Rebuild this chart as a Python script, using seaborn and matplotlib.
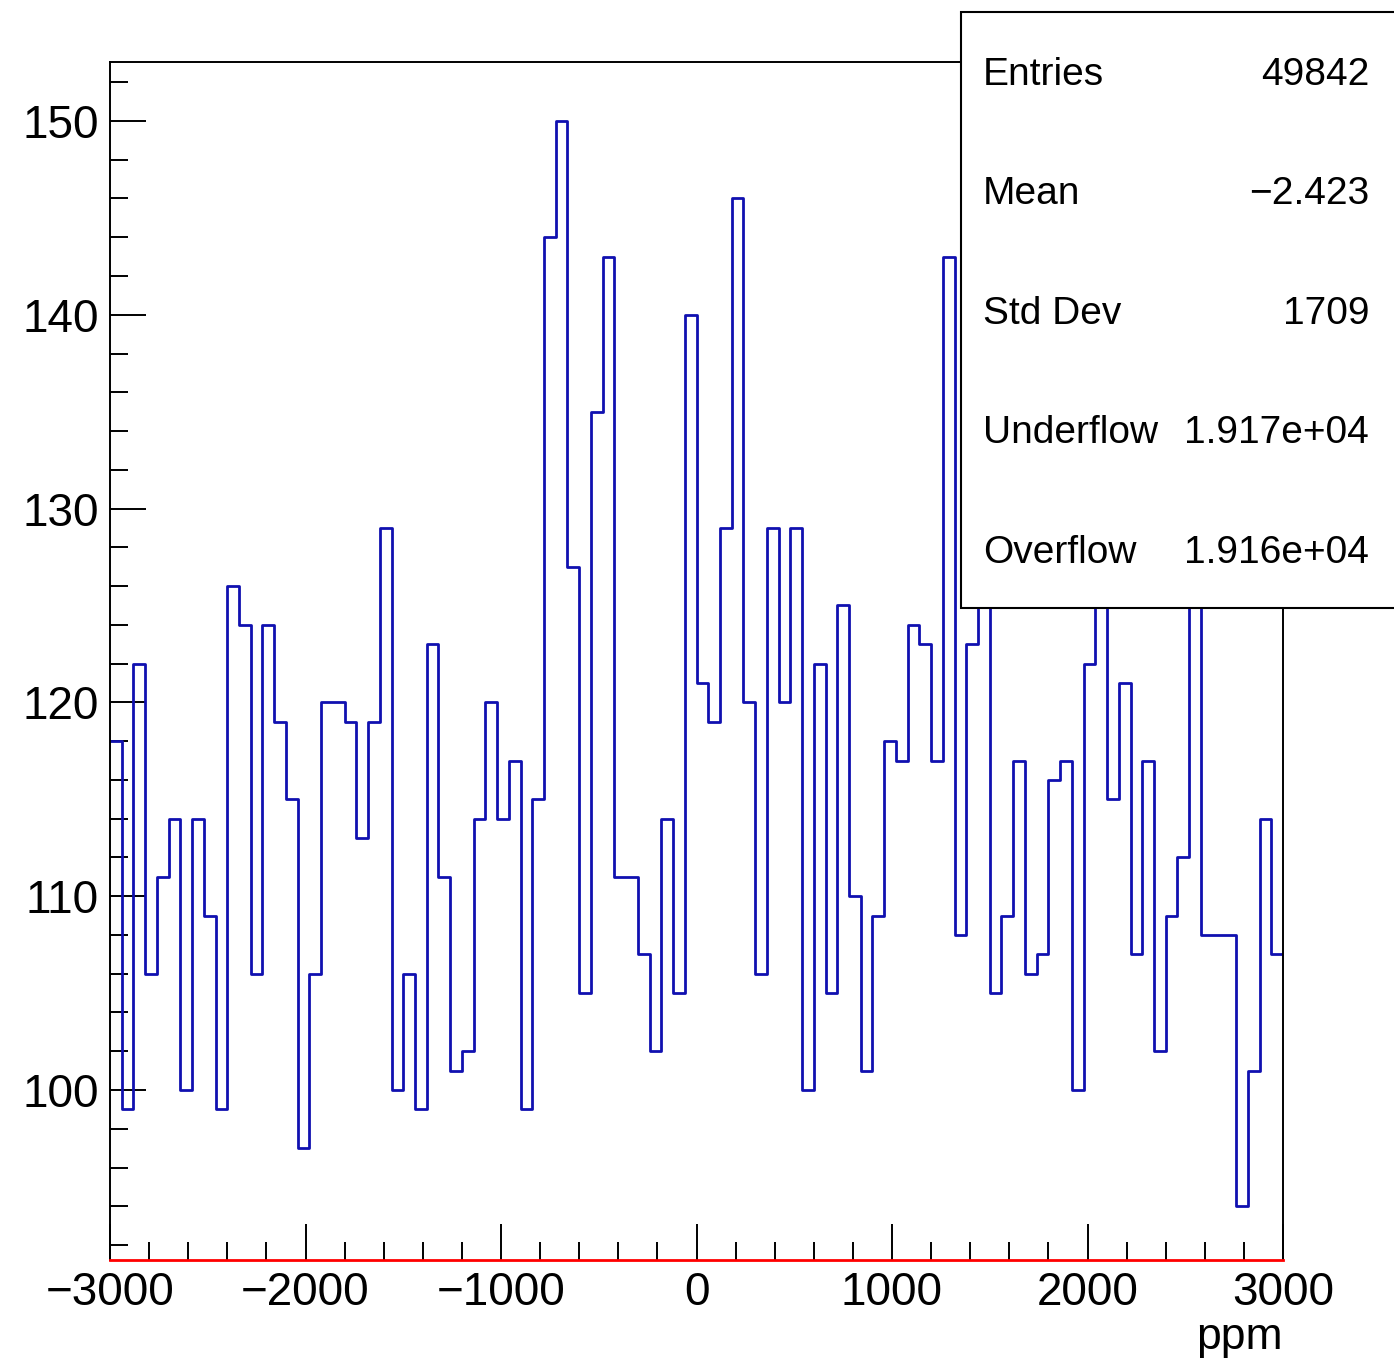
import numpy as np
import pandas as pd
import seaborn as sns
import matplotlib.pyplot as plt
from matplotlib.ticker import MultipleLocator
from matplotlib.patches import Rectangle

# ************************************************************************
# Data: 100 bins from -3000 to 3000 ppm
# ************************************************************************

x_low = -3000
x_high = 3000
n_bins = 100

counts = [118, 99, 122, 106, 111, 114, 100, 114, 109, 99,
          126, 124, 106, 124, 119, 115, 97, 106, 120, 120,
          119, 113, 119, 129, 100, 106, 99, 123, 111, 101,
          102, 114, 120, 114, 117, 99, 115, 144, 150, 127,
          105, 135, 143, 111, 111, 107, 102, 114, 105, 140,
          121, 119, 129, 146, 120, 106, 129, 120, 129, 100,
          122, 105, 125, 110, 101, 109, 118, 117, 124, 123,
          117, 143, 108, 123, 127, 105, 109, 117, 106, 107,
          116, 117, 100, 122, 128, 115, 121, 107, 117, 102,
          109, 112, 127, 108, 108, 108, 94, 101, 114, 107]

stat_names = ['Entries', 'Mean', 'Std Dev', 'Underflow', 'Overflow']
stat_values = ['49842', '\u22122.423', '1709', '1.917e+04', '1.916e+04']

edges = np.linspace(x_low, x_high, n_bins + 1)
centers = (edges[:-1] + edges[1:]) / 2
df = pd.DataFrame({'ppm': centers, 'count': counts})

# ************************************************************************
# Plot
# ************************************************************************

sns.set_theme(style='white')
plt.rcParams['font.family'] = ['Liberation Sans', 'DejaVu Sans']
for key in ['text.color', 'axes.labelcolor', 'xtick.color', 'ytick.color']:
    plt.rcParams[key] = 'black'

W, H = 1394, 1369
fig = plt.figure(figsize=(W / 100, H / 100), dpi=100)
ax = fig.add_axes([110 / W, 1 - 1260 / H, (1283 - 110) / W, (1260 - 62) / H])

sns.histplot(data=df, x='ppm', weights='count', bins=list(edges), element='step',
             fill=False, color='#1010b0', linewidth=2.0, ax=ax)

ax.set_xlim(x_low, x_high)
ax.set_ylim(91.23, 153.04)
ax.set_ylabel('')
ax.set_xlabel('ppm', loc='right', fontsize=32, labelpad=1)

ax.xaxis.set_major_locator(MultipleLocator(1000))
ax.xaxis.set_minor_locator(MultipleLocator(200))
ax.yaxis.set_major_locator(MultipleLocator(10))
ax.yaxis.set_minor_locator(MultipleLocator(2))
ax.tick_params(which='both', direction='in', bottom=True, left=True,
               top=False, right=False, width=1.4, color='black',
               labelcolor='black')
ax.tick_params(which='major', length=26, labelsize=33, pad=8)
ax.tick_params(which='minor', length=13)

for side in ['left', 'right', 'top', 'bottom']:
    ax.spines[side].set_visible(True)
    ax.spines[side].set_color('black')
    ax.spines[side].set_linewidth(1.4)
ax.spines['bottom'].set_color('red')
ax.spines['bottom'].set_linewidth(2.0)

# stats box
box = Rectangle((961 / W, 1 - 608 / H), 0.5, (608 - 12) / H,
                transform=fig.transFigure, facecolor='white',
                edgecolor='black', linewidth=1.5, zorder=5)
fig.add_artist(box)
for i, (name, val) in enumerate(zip(stat_names, stat_values)):
    yb = 1 - (85 + 119.5 * i) / H
    fig.text(983 / W, yb, name, ha='left', va='baseline', fontsize=28,
             color='black', zorder=6)
    fig.text(1369 / W, yb, val, ha='right', va='baseline', fontsize=28,
             color='black', zorder=6)

plt.savefig('out.png', dpi=100)
